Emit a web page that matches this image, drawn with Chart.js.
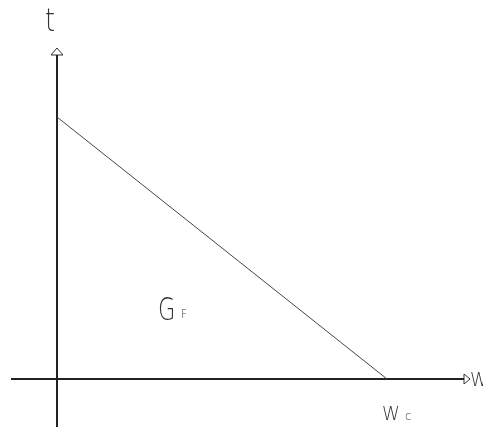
<!DOCTYPE html>
<html>
<head>
<meta charset="utf-8">
<script src="https://cdn.jsdelivr.net/npm/chart.js@4"></script>
<style>
  html, body { margin: 0; padding: 0; background: #fff; }
  #box { width: 483px; height: 427px; }
</style>
</head>
<body>
<div id="box"><canvas id="grafico" width="483" height="427"></canvas></div>
<script>
// recta t(W): desde el corte con t hasta Wc
const lineaW = [0, 330];
const lineaT = [262, 0];
// ejes
const ejeW = [-46, 407];
const ejeT = [-48, 324];
// etiquetas
const textos = ['t', 'G', 'F', 'W', 'c', 'W'];

const pts = (xs, ys) => xs.map((x, i) => ({ x: x, y: ys[i] }));

// puntas de flecha (triangulos abiertos)
const flechaT = [{ x: -6, y: 324 }, { x: 0, y: 331 }, { x: 6, y: 324 }, { x: -6, y: 324 }];
const flechaW = [{ x: 407, y: 5 }, { x: 413, y: 0 }, { x: 407, y: -5 }, { x: 407, y: 5 }];

// donde va cada texto (coordenadas de datos) y tamaño
const posTextos = [
  { x: -12, y: 348, size: 32, sx: 0.8 },
  { x: 101, y: 59, size: 32, sx: 0.7 },
  { x: 124, y: 61, size: 13, sx: 0.8 },
  { x: 325, y: -41, size: 19, sx: 0.95 },
  { x: 348, y: -41, size: 13, sx: 0.9 },
  { x: 413, y: -7, size: 19, sx: 0.95 }
];

const etiquetas = {
  id: 'etiquetas',
  afterDatasetsDraw(chart) {
    const ctx = chart.ctx;
    const sx = chart.scales.x, sy = chart.scales.y;
    ctx.save();
    ctx.fillStyle = '#333';
    ctx.textBaseline = 'alphabetic';
    textos.forEach((t, i) => {
      const p = posTextos[i];
      ctx.save();
      ctx.translate(sx.getPixelForValue(p.x), sy.getPixelForValue(p.y));
      ctx.scale(p.sx, 1);
      ctx.font = '200 ' + p.size + 'px "DejaVu Sans"';
      ctx.fillText(t, 0, 0);
      ctx.restore();
    });
    ctx.restore();
  }
};

const ctx = document.getElementById('grafico').getContext('2d');
new Chart(ctx, {
  type: 'scatter',
  data: {
    datasets: [
      { data: pts(lineaW, lineaT), showLine: true, borderColor: '#444', borderWidth: 1, pointRadius: 0 },
      { data: pts(ejeW, [0, 0]), showLine: true, borderColor: '#222', borderWidth: 2, pointRadius: 0 },
      { data: pts([0, 0], ejeT), showLine: true, borderColor: '#222', borderWidth: 2, pointRadius: 0 },
      { data: flechaT, showLine: true, borderColor: '#333', borderWidth: 1, pointRadius: 0 },
      { data: flechaW, showLine: true, borderColor: '#333', borderWidth: 1, pointRadius: 0 }
    ]
  },
  options: {
    responsive: false,
    animation: false,
    layout: { padding: 0 },
    plugins: { legend: { display: false }, tooltip: { enabled: false } },
    scales: {
      x: { type: 'linear', min: -57, max: 426, display: false },
      y: { type: 'linear', min: -48, max: 379, display: false }
    }
  },
  plugins: [etiquetas]
});
</script>
</body>
</html>
